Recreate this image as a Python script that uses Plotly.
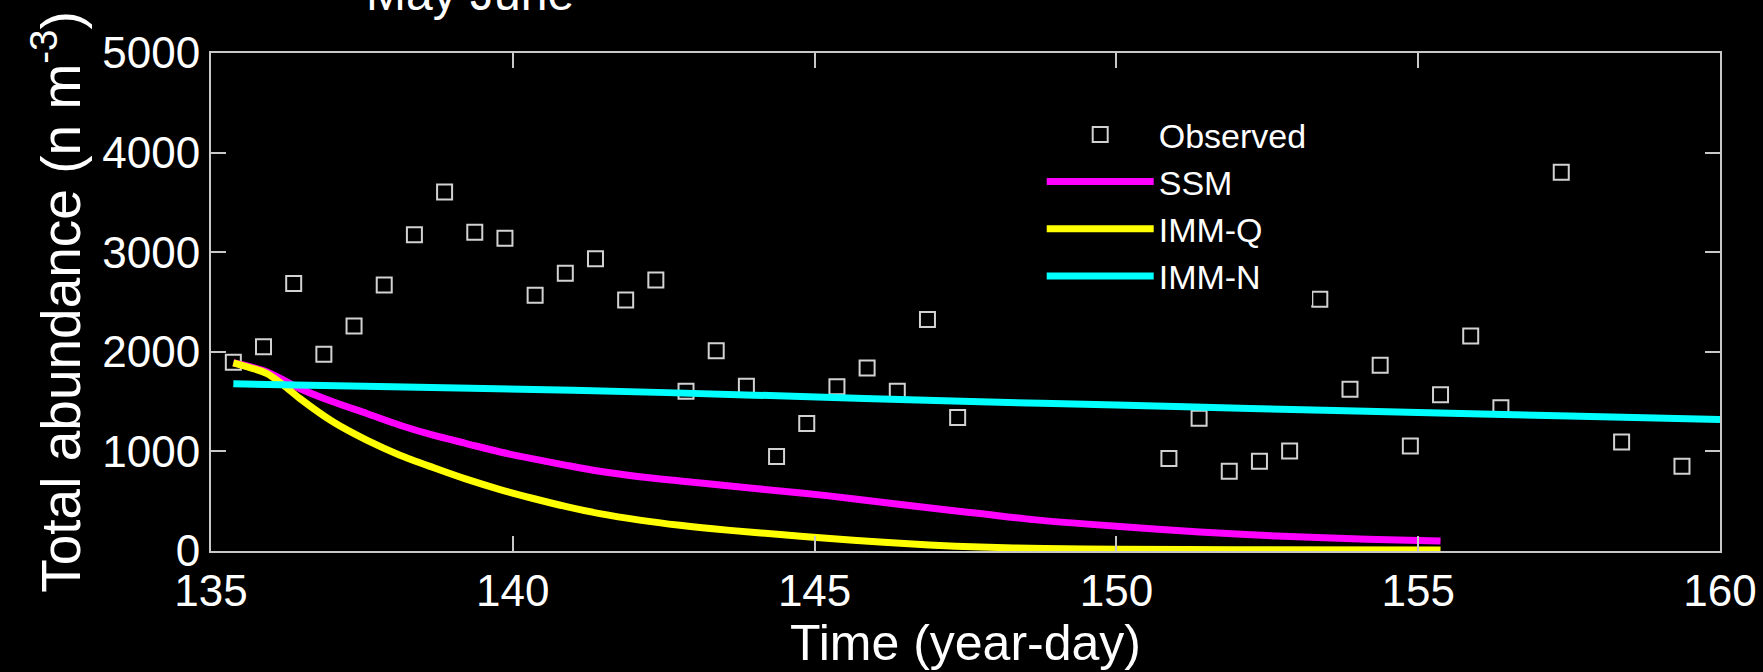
import plotly.graph_objects as go

# ---- data ----
obs_day = [135.37, 135.87, 136.37, 136.87, 137.37, 137.87, 138.37, 138.87, 139.37, 139.87,
           140.37, 140.87, 141.37, 141.87, 142.37, 142.87, 143.37, 143.87, 144.37, 144.87,
           145.37, 145.87, 146.37, 146.87, 147.37, 150.87, 151.37, 151.87, 152.37, 152.87,
           153.37, 153.87, 154.37, 154.87, 155.37, 155.87, 156.37, 157.37, 158.37, 159.37]
obs_val = [1895, 2050, 2685, 1975, 2260, 2670, 3175, 3605, 3200, 3140,
           2567, 2788, 2935, 2520, 2721, 1605, 2010, 1655, 950, 1280,
           1650, 1838, 1605, 2325, 1341, 928, 1334, 801, 900, 1004,
           2527, 1625, 1866, 1055, 1570, 2158, 1437, 3803, 1095, 851]

ssm_day = [135.37, 135.92, 136.47, 137.02, 137.58, 138.13, 138.68, 139.23, 139.79, 140.34,
           140.89, 141.44, 142.1, 142.77, 143.6, 144.43, 145.2, 146.08, 147.24, 147.74,
           148.62, 150.0, 151.38, 152.76, 154.15, 155.37]
ssm_val = [1890, 1800, 1632, 1498, 1381, 1263, 1163, 1079, 994, 925,
           860, 800, 746, 703, 652, 603, 556, 493, 409, 376,
           315, 248, 191, 148, 118, 100]

immq_day = [135.37, 135.92, 136.2, 136.47, 137.02, 137.58, 138.13, 138.68, 139.23, 139.79,
            140.34, 140.89, 141.44, 142.1, 142.77, 143.6, 144.43, 145.2, 146.08, 146.9,
            147.74, 148.81, 150.0, 152.0, 155.37]
immq_val = [1890, 1783, 1665, 1532, 1297, 1113, 962, 838, 721, 617,
            527, 445, 375, 310, 258, 207, 165, 128, 90, 60,
            40, 25, 18, 12, 10]

immn_day = [135.37, 138.0, 141.0, 144.0, 147.74, 150.0, 152.21, 155.0, 157.5, 160.0]
immn_val = [1678, 1648, 1615, 1565, 1498, 1465, 1431, 1390, 1355, 1320]

x_ticks = [135, 140, 145, 150, 155, 160]
y_ticks = [0, 1000, 2000, 3000, 4000, 5000]

FONT = "Liberation Sans, Arial, Helvetica, sans-serif"
AX = "#c8c8c8"

fig = go.Figure()
fig.add_trace(go.Scatter(x=obs_day, y=obs_val, mode="markers", name="Observed",
                         marker=dict(symbol="square-open", size=15, color="#d2d2d2",
                                     line=dict(width=2, color="#d2d2d2"))))
fig.add_trace(go.Scatter(x=ssm_day, y=ssm_val, mode="lines", name="SSM",
                         line=dict(color="#ff00ff", width=7, shape="spline", smoothing=0.8)))
fig.add_trace(go.Scatter(x=immq_day, y=immq_val, mode="lines", name="IMM-Q",
                         line=dict(color="#ffff00", width=7, shape="spline", smoothing=0.8)))
fig.add_trace(go.Scatter(x=immn_day, y=immn_val, mode="lines", name="IMM-N",
                         line=dict(color="#00ffff", width=7, shape="spline", smoothing=0.8)))

axis_common = dict(showline=True, linecolor=AX, linewidth=2, mirror="ticks",
                   ticks="inside", ticklen=15, tickwidth=2, tickcolor=AX,
                   showgrid=False, zeroline=False,
                   tickfont=dict(family=FONT, size=44, color="white"))

fig.update_xaxes(range=[135, 160], tickvals=x_ticks, ticktext=[str(v) for v in x_ticks],
                 title=dict(text="Time (year-day)", font=dict(family=FONT, size=50, color="white"),
                            standoff=8),
                 **axis_common)
fig.update_yaxes(range=[0, 5000], tickvals=y_ticks, ticktext=[str(v) for v in y_ticks],
                 title=dict(text="Total abundance (n m<sup>-3</sup>)",
                            font=dict(family=FONT, size=55, color="white"), standoff=4),
                 **axis_common)

fig.update_layout(
    width=1763, height=672,
    margin=dict(l=211, r=43, t=53, b=121, autoexpand=False),
    paper_bgcolor="black", plot_bgcolor="black",
    font=dict(family=FONT, color="white"),
    showlegend=True,
    legend=dict(x=0.5505, y=0.894, xanchor="left", yanchor="top",
                bgcolor="black", borderwidth=0, itemwidth=107,
                entrywidth=165, entrywidthmode="pixels",
                font=dict(family=FONT, size=34, color="white"),
                tracegroupgap=0),
    annotations=[dict(text="May June", xref="paper", yref="paper",
                      x=(470 - 211.2) / 1508.8, y=1 + 59 / 497.7,
                      xanchor="center", yanchor="middle", showarrow=False,
                      font=dict(family=FONT, size=48, color="white"))],
)

fig.write_html("out.html")
